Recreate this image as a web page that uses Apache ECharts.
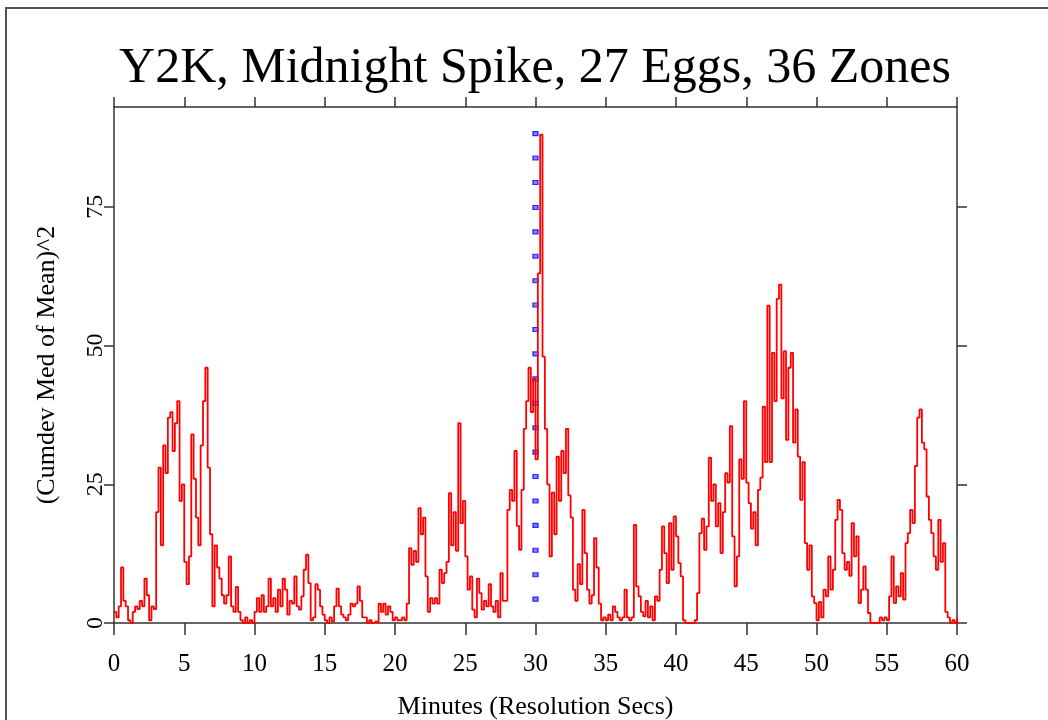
<!DOCTYPE html>
<html>
<head>
<meta charset="utf-8">
<title>Y2K, Midnight Spike</title>
<script src="https://cdn.jsdelivr.net/npm/echarts@6/dist/echarts.min.js"></script>
<style>
  html, body { margin: 0; padding: 0; background: #fff; }
  #main { width: 1048px; height: 720px; }
</style>
</head>
<body>
<div id="main"></div>
<script>
// one sample every 10 seconds, 6 per minute
var stepSecs = 10;
var cumdev = [
  2, 1, 3, 10, 4, 3,            // 0
  0.5, 0, 2, 3, 2.5, 4,         // 1
  3, 8, 5, 0.5, 3, 2.5,         // 2
  20, 28, 14, 32, 27, 37,       // 3
  38, 31, 36, 40, 22, 25,       // 4
  11, 7, 12, 34, 26, 19,        // 5
  14, 32, 40, 46, 28, 16,       // 6
  3, 14, 10, 8, 5, 3.5,         // 7
  5, 12, 3, 2, 6.5, 2,          // 8
  0.5, 0, 1, 0, 0.5, 0,         // 9
  2, 4.5, 2, 5, 2, 3,           // 10
  8, 3, 4.5, 2, 6, 3,           // 11
  8, 6, 1.5, 4, 3.5, 8.4,       // 12
  3, 2.4, 4.8, 9.6, 12.3, 7.2,  // 13
  0.5, 1, 7, 6, 3, 1.5,         // 14
  0.5, 0, 1, 0.3, 3, 6.2,       // 15
  3, 1.5, 1, 0.5, 1.5, 3.5,     // 16
  3, 3.5, 6.6, 4, 1, 1,         // 17
  0, 0.5, 0, 0.3, 0, 3.5,       // 18
  2, 3.5, 1.5, 3, 2, 0.5,       // 19
  1, 0.5, 0.5, 1, 0.5, 3.5,     // 20
  13.5, 10.5, 13, 11, 20.7, 16, // 21
  19, 8.4, 2, 4.5, 3.5, 4.5,    // 22
  3.5, 9.6, 7.2, 9, 11, 23.4,   // 23
  14, 20, 13, 36, 18, 22,       // 24
  12, 6, 8.4, 2.4, 1, 8,        // 25
  5.4, 2.4, 4, 3, 7, 3,         // 26
  2, 4, 1, 9, 4, 4,             // 27
  20.4, 24, 22, 31, 17.5, 13.2, // 28
  24, 35, 40, 46, 38, 44,       // 29
  29.5, 63, 88, 48, 35, 25,     // 30
  12, 23.5, 16, 30, 22, 31,     // 31
  27, 35, 23, 19, 6, 4,         // 32
  10.6, 7, 20.4, 12.6, 6, 3.5,  // 33
  5, 15.3, 10, 3.5, 0.5, 1,     // 34
  0.5, 1.5, 0.5, 3, 2, 1,       // 35
  0.5, 1, 6, 1, 0.5, 1,         // 36
  17.7, 6.6, 4.8, 2, 1.2, 4,    // 37
  1, 3, 0.5, 4.8, 4, 9.6,       // 38
  17.4, 12.6, 7.2, 18, 9.6, 19.2, // 39
  15.6, 10.8, 8.4, 0.5, 0, 0,   // 40
  0, 0, 0.5, 5.4, 16.2, 18.8,   // 41
  13.2, 17.4, 29.8, 22, 25, 17.4, // 42
  21.6, 12.6, 20, 27, 25.3, 35.5, // 43
  15.6, 6.6, 12, 29.5, 26, 40,  // 44
  25.3, 21.6, 17, 20, 14, 24,   // 45
  26.2, 39, 29, 57.2, 29, 48.7, // 46
  40, 58.4, 61, 40.5, 49, 33,   // 47
  46, 48.7, 32.5, 38.5, 30, 22.2, // 48
  29, 14.4, 9.6, 14, 4.8, 3.6,  // 49
  0.5, 3.8, 1, 6, 4.8, 12,      // 50
  6, 9.6, 18.6, 22.2, 20.4, 12.6, // 51
  9.6, 11, 8.5, 18, 12, 15.6,   // 52
  3.6, 6, 10.2, 6, 1.8, 0,      // 53
  0, 0, 0, 1, 0.5, 1,           // 54
  0.5, 4.8, 12, 3.6, 6.6, 4.8,  // 55
  9, 4.2, 14.4, 16.2, 20.4, 18, // 56
  28.3, 37, 38.5, 32.5, 31.3, 22.8, // 57
  18.6, 16.2, 12, 9.6, 18.6, 11, // 58
  14.4, 2, 1, 0, 0.5, 0,        // 59
  1                             // 60
];
// blue dotted marker at midnight (minute 30)
var midnightX = 30;
var midnightY = [4.3, 8.7, 13.1, 17.6, 22.0, 26.4, 30.8, 35.2, 39.6, 44.0,
                 48.5, 52.9, 57.3, 61.7, 66.1, 70.5, 74.9, 79.4, 83.8, 88.2];
var yTicks = [0, 25, 50, 75];

var lineData = cumdev.map(function (v, i) { return [i * stepSecs / 60, v]; });
var dotData = midnightY.map(function (v) { return [midnightX, v]; });

var serif = '"Liberation Serif", "DejaVu Serif", serif';
var axisCol = '#333';

var chart = echarts.init(document.getElementById('main'));
var option = {
  animation: false,
  backgroundColor: '#fff',
  title: {
    text: 'Y2K, Midnight Spike, 27 Eggs, 36 Zones',
    left: 530, top: 39, textAlign: 'center',
    textStyle: { fontFamily: serif, fontSize: 50, fontWeight: 'normal', color: '#000' }
  },
  graphic: [{
    type: 'rect', silent: true,
    shape: { x: 6, y: 8, width: 1100, height: 800 },
    style: { fill: 'none', stroke: '#555', lineWidth: 2 }
  }],
  grid: { left: 114, right: 91, top: 107, bottom: 97, outerBoundsMode: 'none' },
  xAxis: [{
    type: 'value', min: 0, max: 60, interval: 5, position: 'bottom',
    name: 'Minutes (Resolution Secs)', nameLocation: 'middle', nameGap: 71,
    nameTextStyle: { fontFamily: serif, fontSize: 26, color: '#000' },
    axisLine: { show: true, onZero: false, lineStyle: { color: axisCol, width: 1.5 } },
    axisTick: { show: true, length: 12, lineStyle: { color: axisCol, width: 1.5 } },
    axisLabel: { fontFamily: serif, fontSize: 25, color: '#000', margin: 29 },
    splitLine: { show: false }
  }, {
    type: 'value', min: 0, max: 60, interval: 5, position: 'top',
    axisLine: { show: true, onZero: false, lineStyle: { color: axisCol, width: 1.5 } },
    axisTick: { show: true, length: 10, lineStyle: { color: axisCol, width: 1.5 } },
    axisLabel: { show: false },
    splitLine: { show: false }
  }],
  yAxis: [{
    type: 'value', min: 0, max: 93, position: 'left',
    name: '(Cumdev Med of Mean)^2', nameLocation: 'middle', nameGap: 54, nameRotate: 90,
    nameTextStyle: { fontFamily: serif, fontSize: 26, color: '#000' },
    axisLine: { show: true, onZero: false, lineStyle: { color: axisCol, width: 1.5 } },
    axisTick: { show: true, length: 10, customValues: yTicks, lineStyle: { color: axisCol, width: 1.5 } },
    axisLabel: { fontFamily: serif, fontSize: 24, color: '#000', rotate: 90, margin: 6, customValues: yTicks },
    splitLine: { show: false }
  }, {
    type: 'value', min: 0, max: 93, position: 'right',
    axisLine: { show: true, onZero: false, lineStyle: { color: axisCol, width: 1.5 } },
    axisTick: { show: true, length: 10, customValues: yTicks, lineStyle: { color: axisCol, width: 1.5 } },
    axisLabel: { show: false },
    splitLine: { show: false }
  }],
  series: [{
    type: 'line', data: lineData, xAxisIndex: 0, yAxisIndex: 0,
    showSymbol: false, symbol: 'none', sampling: 'none', step: 'end',
    lineStyle: { color: '#ff0000', width: 1.8 },
    z: 3
  }, {
    type: 'scatter', data: dotData, xAxisIndex: 1, yAxisIndex: 1,
    symbol: 'rect', symbolSize: [5, 4],
    itemStyle: { color: '#6666ff', borderColor: '#0000ff', borderWidth: 1.2 },
    z: 2
  }]
};
chart.setOption(option);
</script>
</body>
</html>
